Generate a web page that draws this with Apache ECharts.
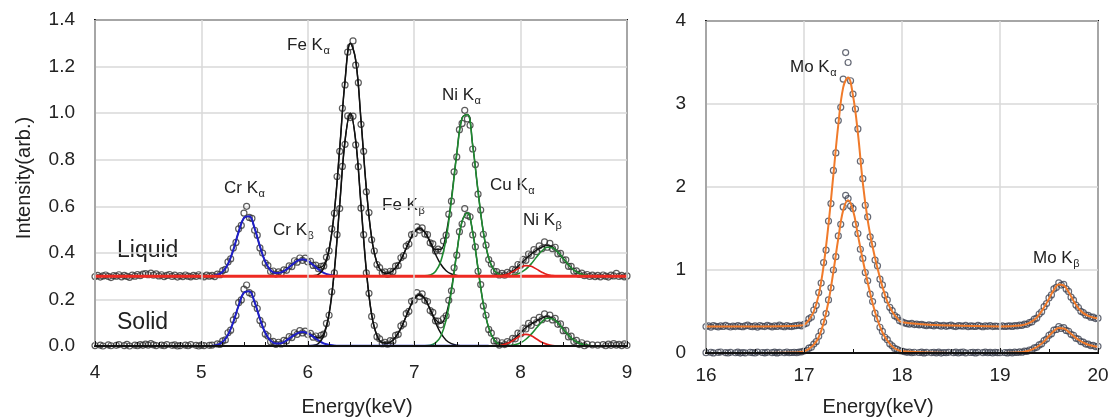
<!DOCTYPE html>
<html>
<head>
<meta charset="utf-8">
<script src="https://cdn.jsdelivr.net/npm/echarts@6/dist/echarts.min.js"></script>
<style>
  html, body { margin: 0; background: #fff; }
  #main { width: 1112px; height: 420px; }
</style>
</head>
<body>
<div id="main"></div>
<script>
// ---------- left panel (4-9 keV) ----------
// measured points: start energy + fixed step
var leftScanStart = 4.0, scanStep = 0.025;
var liquidData = [
  0.298,0.303,0.296,0.301,0.305,0.299,0.294,0.302,0.300,0.306,
  0.297,0.303,0.299,0.295,0.304,0.300,0.307,0.302,0.309,0.311,
  0.306,0.313,0.304,0.310,0.301,0.306,0.298,0.303,0.307,0.299,
  0.304,0.296,0.302,0.298,0.305,0.300,0.297,0.303,0.299,0.306,
  0.301,0.297,0.304,0.300,
  0.303,0.298,0.309,0.306,0.324,0.329,0.361,0.374,0.421,0.445,
  0.503,0.518,0.571,0.600,0.552,0.548,0.497,0.476,0.421,0.399,
  0.356,0.345,0.320,0.322,0.309,0.318,0.312,0.327,0.325,0.344,
  0.341,0.366,0.360,0.378,0.368,0.377,0.361,0.364,0.346,0.347,
  0.332,0.342,0.344,0.381,0.409,0.503,0.570,0.728,0.836,1.021,
  1.121,1.262,1.285,1.310,1.206,1.131,0.952,0.836,0.662,0.573,
  0.456,0.408,0.350,0.337,0.314,0.318,0.307,0.321,0.319,0.343,
  0.346,0.379,0.388,0.429,0.438,0.478,0.482,0.512,0.498,0.507,
  0.481,0.478,0.443,0.439,0.408,0.416,0.409,0.451,0.476,0.566,
  0.622,0.748,0.812,0.929,0.956,1.012,0.975,0.948,0.846,0.779,
  0.652,0.584,0.480,0.433,0.371,0.352,0.321,0.319,0.305,0.312,
  0.304,0.316,0.311,0.329,0.326,0.350,0.347,0.372,0.368,0.395,
  0.389,0.414,0.405,0.430,0.418,0.447,0.424,0.441,0.418,0.424,
  0.396,0.398,0.369,0.370,0.342,0.342,0.321,0.323,0.308,0.313,
  0.302,0.307,0.299,0.304,0.298,
  0.303,0.297,0.305,0.300,0.296,0.304,0.301,0.312,0.299,0.303,0.297,0.301
];
var solidData = [
  0.002,-0.003,0.004,0.000,-0.002,0.005,0.001,-0.004,0.003,0.006,
  -0.001,0.002,0.007,0.000,-0.003,0.004,0.001,0.006,0.003,0.008,
  0.004,0.010,0.005,0.002,-0.002,0.004,0.001,0.006,-0.001,0.003,
  0.005,0.000,0.002,-0.003,0.004,0.001,0.006,-0.002,0.003,0.000,
  0.004,0.002,-0.001,0.003,
  0.004,-0.001,0.009,0.007,0.022,0.026,0.057,0.068,0.112,0.131,
  0.186,0.198,0.244,0.262,0.229,0.222,0.181,0.161,0.110,0.092,
  0.051,0.043,0.018,0.020,0.007,0.016,0.009,0.024,0.021,0.040,
  0.036,0.057,0.050,0.066,0.056,0.064,0.049,0.054,0.038,0.043,
  0.031,0.046,0.051,0.097,0.132,0.233,0.314,0.478,0.590,0.771,
  0.866,0.988,0.981,0.987,0.864,0.770,0.592,0.478,0.314,0.226,
  0.127,0.088,0.040,0.031,0.010,0.016,0.008,0.023,0.021,0.046,
  0.050,0.086,0.095,0.139,0.149,0.192,0.196,0.229,0.213,0.224,
  0.196,0.191,0.152,0.144,0.108,0.107,0.091,0.118,0.130,0.196,
  0.237,0.336,0.390,0.491,0.524,0.590,0.561,0.555,0.477,0.426,
  0.321,0.264,0.172,0.132,0.071,0.055,0.022,0.022,0.004,0.014,
  0.006,0.019,0.014,0.033,0.031,0.055,0.052,0.077,0.073,0.097,
  0.089,0.111,0.101,0.123,0.113,0.138,0.119,0.133,0.112,0.119,
  0.093,0.095,0.066,0.067,0.039,0.042,0.019,0.024,0.006,0.014,
  0.001,0.008,-0.002,0.005,-0.001,
  0.004,-0.002,0.006,0.001,0.008,0.003,0.010,0.004,0.007,0.002,0.009,0.003
];

// fitted curves
var leftFitX = [4.0,4.5,5.0,5.05,
  5.10,5.15,5.20,5.25,5.30,5.35,5.40,5.45,5.50,5.55,
  5.60,5.65,5.70,5.75,5.80,5.85,5.90,5.95,6.00,6.05,
  6.10,6.15,6.20,6.25,6.30,6.35,6.40,6.45,6.50,6.55,
  6.60,6.65,6.70,6.75,6.80,6.85,6.90,6.95,7.00,7.05,
  7.10,7.15,7.20,7.25,7.30,7.35,7.40,7.45,7.50,7.55,
  7.60,7.65,7.70,7.75,7.80,7.85,7.90,7.95,8.00,8.05,
  8.10,8.15,8.20,8.25,8.30,8.35,8.40,8.45,8.50,8.55,
  8.60,8.65,8.70,8.80,9.00];
var liquidFit = [0.300,0.300,0.300,0.300,
  0.301,0.305,0.319,0.352,0.413,0.490,0.550,0.557,0.505,0.428,
  0.362,0.325,0.313,0.316,0.329,0.348,0.366,0.373,0.366,0.350,
  0.337,0.348,0.417,0.581,0.849,1.139,1.300,1.228,0.970,0.677,
  0.465,0.357,0.318,0.312,0.324,0.351,0.394,0.445,0.488,0.505,
  0.489,0.450,0.414,0.415,0.484,0.635,0.827,0.980,0.995,0.861,
  0.665,0.489,0.378,0.326,0.309,0.307,0.315,0.331,0.353,0.375,
  0.395,0.412,0.425,0.431,0.425,0.403,0.376,0.348,0.326,0.312,
  0.305,0.302,0.300,0.300,0.300];
var solidFit = [0,0,0,0,
  0.001,0.005,0.017,0.048,0.103,0.174,0.229,0.235,0.188,0.117,
  0.057,0.023,0.011,0.012,0.024,0.040,0.054,0.060,0.054,0.042,
  0.035,0.055,0.140,0.326,0.607,0.882,1.000,0.882,0.607,0.325,
  0.135,0.045,0.014,0.012,0.025,0.055,0.101,0.156,0.202,0.220,
  0.203,0.159,0.114,0.097,0.137,0.246,0.401,0.536,0.572,0.488,
  0.332,0.180,0.078,0.028,0.009,0.010,0.018,0.036,0.058,0.079,
  0.095,0.108,0.120,0.126,0.119,0.100,0.073,0.046,0.025,0.012,
  0.005,0.002,0,0,0];

// element components (start energy on leftFitX, values)
var liquidCr = [5.10, [0.301,0.305,0.319,0.352,0.413,0.490,0.550,0.557,0.505,0.428,0.362,0.325,0.313,0.316,0.329,0.348,0.366,0.373,0.366,0.348,0.329,0.314,0.306,0.302,0.300]];
var liquidFe = [6.00, [0.300,0.302,0.308,0.334,0.411,0.579,0.849,1.139,1.300,1.228,0.970,0.677,0.465,0.357,0.318,0.312,0.324,0.351,0.394,0.445,0.488,0.505,0.488,0.445,0.394,0.351,0.323,0.309,0.303,0.301,0.300]];
var liquidNi = [7.10, [0.301,0.305,0.320,0.364,0.461,0.626,0.824,0.979,0.994,0.861,0.665,0.489,0.378,0.326,0.307,0.302,0.302,0.306,0.315,0.330,0.353,0.382,0.408,0.424,0.422,0.403,0.376,0.348,0.326,0.312,0.305,0.302,0.300]];
var liquidCu = [7.80, [0.3015,0.305,0.3125,0.325,0.338,0.345,0.342,0.330,0.317,0.307,0.3025,0.3005]];
var solidCr = [5.10, [0.001,0.005,0.017,0.048,0.103,0.174,0.229,0.235,0.188,0.117,0.057,0.023,0.011,0.012,0.024,0.040,0.054,0.060,0.054,0.040,0.024,0.011,0.005,0.001,0]];
var solidFe = [6.00, [0,0.002,0.011,0.044,0.135,0.325,0.607,0.882,1.000,0.882,0.607,0.325,0.135,0.045,0.014,0.012,0.025,0.055,0.101,0.156,0.202,0.220,0.202,0.156,0.101,0.055,0.025,0.010,0.003,0.001,0]];
var solidNi = [7.10, [0.001,0.003,0.013,0.042,0.112,0.236,0.398,0.535,0.572,0.488,0.332,0.180,0.078,0.027,0.007,0.003,0.002,0.006,0.014,0.029,0.051,0.078,0.104,0.119,0.117,0.099,0.073,0.046,0.025,0.012,0.005,0.002,0]];
var solidCu = [7.75, [0.0006,0.002,0.007,0.016,0.030,0.044,0.050,0.044,0.030,0.016,0.007,0.002,0.0006]];
var liquidBase = 0.3;
var solidBaseBlue = [6.0, 7.7];
var solidBaseYellow = [5.2, 6.0];

// ---------- right panel (16-20 keV) ----------
var rightScanStart = 16.0;
var liquidMo = [
  0.318,0.326,0.312,0.330,0.321,0.315,0.327,0.319,0.334,0.322,
  0.313,0.325,0.318,0.331,0.320,0.316,0.328,0.335,0.321,0.317,
  0.326,0.312,0.329,0.322,0.318,0.333,0.324,0.315,0.327,0.320,
  0.337,0.323,0.316,0.329,0.321,0.318,0.326,0.330,0.335,0.328,
  0.346,0.358,0.412,0.431,0.518,0.575,0.728,0.842,1.09,1.24,
  1.59,1.80,2.20,2.41,2.80,2.96,3.30,3.62,3.50,3.28,
  3.12,2.94,2.70,2.31,2.10,1.78,1.64,1.40,1.31,1.12,
  1.05,0.89,0.82,0.70,0.64,0.55,0.51,0.45,0.43,0.39,0.376,
  0.362,0.355,0.349,0.358,0.342,0.347,0.339,0.344,0.336,0.331,
  0.340,0.333,0.327,0.338,0.330,0.325,0.334,0.321,0.329,0.336,
  0.324,0.318,0.331,0.326,0.322,0.333,0.317,0.328,0.323,0.319,
  0.332,0.325,0.316,0.327,0.321,0.330,0.318,0.324,0.322,
  0.318,0.326,0.319,0.324,0.328,0.320,0.331,0.327,0.335,0.333,
  0.348,0.346,0.367,0.374,0.408,0.421,0.470,0.497,0.558,0.596,
  0.664,0.700,0.772,0.790,0.846,0.818,0.828,0.772,0.742,0.672,
  0.636,0.578,0.548,0.502,0.487,0.458,0.453,0.432,0.433,0.415,0.419
];
var solidMo = [
  0.004,-0.006,0.009,0.001,-0.003,0.007,0.012,-0.002,0.005,0.000,
  0.008,-0.004,0.003,0.010,-0.001,0.006,0.002,-0.007,0.009,0.004,
  0.000,0.011,-0.003,0.006,0.002,0.008,-0.005,0.004,0.010,0.001,
  0.007,-0.002,0.005,0.012,0.003,0.006,0.009,0.004,0.011,0.014,
  0.024,0.030,0.058,0.068,0.108,0.137,0.201,0.262,0.372,0.475,
  0.640,0.785,1.00,1.16,1.41,1.55,1.76,1.90,1.86,1.77,
  1.74,1.55,1.44,1.25,1.14,0.97,0.87,0.71,0.62,0.48,
  0.41,0.31,0.26,0.19,0.16,0.11,0.086,0.055,0.045,0.028,0.024,
  0.015,0.008,0.012,0.003,0.009,-0.002,0.006,0.010,0.001,0.007,
  -0.004,0.005,0.009,0.002,0.011,-0.001,0.006,0.003,0.008,-0.003,
  0.004,0.010,0.000,0.007,0.012,0.002,-0.005,0.006,0.009,0.001,
  0.008,-0.002,0.005,0.011,0.003,0.007,0.000,0.009,0.004,
  0.003,-0.004,0.006,0.001,0.008,0.002,0.010,0.006,0.014,0.009,
  0.022,0.019,0.036,0.038,0.061,0.068,0.097,0.110,0.149,0.168,
  0.214,0.232,0.276,0.283,0.318,0.296,0.306,0.272,0.262,0.226,
  0.214,0.178,0.168,0.138,0.132,0.108,0.106,0.090,0.092,0.077,0.080
];
var rightFitX = [16.0,16.5,16.9,16.95,
  17.0,17.05,17.1,17.15,17.2,17.25,17.3,17.35,17.4,17.45,17.5,17.55,17.6,17.65,17.7,17.75,17.8,17.85,17.9,17.95,18.0,
  18.5,19.0,19.1,19.2,
  19.25,19.3,19.35,19.4,19.45,19.5,19.55,19.6,19.65,19.7,19.75,19.8,19.85,19.9,19.95,20.0];
var liquidMoFit = [0.320,0.320,0.325,0.330,
  0.340,0.40,0.50,0.70,1.05,1.55,2.15,2.75,3.20,3.32,3.10,2.65,2.05,1.60,1.28,1.02,0.80,0.62,0.50,0.42,0.37,
  0.330,0.320,0.322,0.330,
  0.342,0.362,0.400,0.462,0.550,0.655,0.760,0.825,0.815,0.735,0.630,0.540,0.480,0.448,0.428,0.415];
var solidMoFit = [0,0,0.005,0.010,
  0.020,0.05,0.10,0.19,0.36,0.62,0.98,1.38,1.72,1.84,1.72,1.42,1.12,0.85,0.60,0.40,0.25,0.15,0.08,0.04,0.02,
  0,0,0.002,0.008,
  0.016,0.030,0.055,0.090,0.140,0.205,0.265,0.300,0.295,0.255,0.205,0.160,0.125,0.100,0.085,0.075];

// ---------- build ----------
var FONT = '"Liberation Sans", Arial, sans-serif';

function scan(start, vals) {
  return vals.map(function (v, i) { return [+(start + i * scanStep).toFixed(3), v]; });
}
function pairs(xs, ys) {
  return ys.map(function (v, i) { return [xs[i], v]; });
}
function part(comp) {
  var i0 = leftFitX.indexOf(comp[0]);
  return comp[1].map(function (v, i) { return [leftFitX[i0 + i], v]; });
}
// open circles, no fill so the fit lines stay visible
function dots(data, idx, color) {
  return {
    type: 'scatter', data: data, xAxisIndex: idx, yAxisIndex: idx,
    symbol: 'circle', symbolSize: 6, silent: true, z: 1,
    itemStyle: { color: 'rgba(0,0,0,0)', borderColor: color, borderWidth: 1.2 }
  };
}
function curve(data, idx, color, width, z) {
  return {
    type: 'line', data: data, xAxisIndex: idx, yAxisIndex: idx,
    showSymbol: false, symbol: 'none', smooth: 0.4,
    silent: true, z: z, lineStyle: { color: color, width: width }
  };
}

var series = [
  dots(scan(leftScanStart, liquidData), 0, '#333'),
  dots(scan(leftScanStart, solidData), 0, '#333'),
  curve(pairs(leftFitX, liquidFit), 0, '#111', 1.3, 3),
  curve(pairs(leftFitX, solidFit), 0, '#111', 1.3, 3),
  curve(part(liquidCr), 0, '#1f1fc8', 2, 4),
  curve(part(solidCr), 0, '#1f1fc8', 2, 4),
  curve(part(liquidFe), 0, '#111', 1.5, 4),
  curve(part(solidFe), 0, '#111', 1.5, 4),
  curve(part(liquidNi), 0, '#1e8a30', 1.6, 4),
  curve(part(solidNi), 0, '#1e8a30', 1.6, 4),
  curve(part(liquidCu), 0, '#e0201c', 1.6, 4),
  curve(part(solidCu), 0, '#e0201c', 1.6, 4),
  curve([[4, liquidBase], [9, liquidBase]], 0, '#ee2a22', 3, 5),
  curve([[solidBaseYellow[0], 0], [solidBaseYellow[1], 0]], 0, '#e8c020', 2, 5),
  curve([[solidBaseBlue[0], 0], [solidBaseBlue[1], 0]], 0, '#2030d0', 2.4, 5),
  dots(scan(rightScanStart, liquidMo), 1, '#3e4452'),
  dots(scan(rightScanStart, solidMo), 1, '#3e4452'),
  curve(pairs(rightFitX, liquidMoFit), 1, '#f07a2a', 2, 4),
  curve(pairs(rightFitX, solidMoFit), 1, '#f07a2a', 2, 4)
];

function xAxisCfg(idx, min, max, minorSplit, margin) {
  return {
    type: 'value', gridIndex: idx, min: min, max: max, interval: 1, z: 6,
    axisLine: { show: true, onZero: false, lineStyle: { color: '#111', width: 2 } },
    axisTick: { show: true, inside: true, length: 5, lineStyle: { color: '#111', width: 1 } },
    minorTick: { show: true, splitNumber: minorSplit, length: 4, lineStyle: { color: '#111', width: 1 } },
    axisLabel: { color: '#222', fontSize: 19, fontFamily: FONT, margin: margin },
    splitLine: { show: true, lineStyle: { color: '#d9d9d9', width: 1.5 } }
  };
}
function yAxisCfg(idx, min, max, interval, fmt) {
  return {
    type: 'value', gridIndex: idx, min: min, max: max, interval: interval,
    axisLine: { show: true, onZero: false, lineStyle: { color: '#111', width: 2 } },
    axisTick: { show: false },
    axisLabel: { color: '#222', fontSize: 19, fontFamily: FONT, margin: 20, formatter: fmt },
    splitLine: { show: true, lineStyle: { color: '#d9d9d9', width: 1.5 } }
  };
}

// peak labels: [main, subscript, left x, centre y]
var peakLabels = [
  ['Fe K', 'α', 287, 45], ['Cr K', 'α', 224, 188], ['Cr K', 'β', 273, 230],
  ['Fe K', 'β', 382, 205], ['Ni K', 'α', 442, 95], ['Cu K', 'α', 490, 185],
  ['Ni K', 'β', 523, 220], ['Mo K', 'α', 790, 67], ['Mo K', 'β', 1033, 258]
];
var ctx = document.createElement('canvas').getContext('2d');
var graphics = [];
peakLabels.forEach(function (p) {
  ctx.font = '17px ' + FONT;
  var w = ctx.measureText(p[0]).width;
  graphics.push({ type: 'text', x: p[2], y: p[3], silent: true,
    style: { text: p[0], fontSize: 17, fontFamily: FONT, fill: '#222', align: 'left', verticalAlign: 'middle' } });
  graphics.push({ type: 'text', x: p[2] + w + 0.5, y: p[3] + 6, silent: true,
    style: { text: p[1], fontSize: 11, fontFamily: FONT, fill: '#222', align: 'left', verticalAlign: 'middle' } });
});
graphics.push({ type: 'text', x: 117, y: 251, silent: true,
  style: { text: 'Liquid', fontSize: 23, fontFamily: FONT, fill: '#222', verticalAlign: 'middle' } });
graphics.push({ type: 'text', x: 117, y: 323, silent: true,
  style: { text: 'Solid', fontSize: 23, fontFamily: FONT, fill: '#222', verticalAlign: 'middle' } });
graphics.push({ type: 'text', x: 357, y: 407, silent: true,
  style: { text: 'Energy(keV)', fontSize: 20, fontFamily: FONT, fill: '#222', align: 'center', verticalAlign: 'middle' } });
graphics.push({ type: 'text', x: 878, y: 407, silent: true,
  style: { text: 'Energy(keV)', fontSize: 20, fontFamily: FONT, fill: '#222', align: 'center', verticalAlign: 'middle' } });
graphics.push({ type: 'text', x: 24, y: 178, rotation: Math.PI / 2, silent: true,
  style: { text: 'Intensity(arb.)', fontSize: 20, fontFamily: FONT, fill: '#222', align: 'center', verticalAlign: 'middle' } });

var myChart = echarts.init(document.getElementById('main'));
var option = {
  animation: false,
  backgroundColor: '#fff',
  grid: [
    { left: 95, top: 20, width: 532, height: 326, show: true, borderColor: '#111', borderWidth: 2, backgroundColor: 'transparent' },
    { left: 706, top: 21, width: 392, height: 332, show: true, borderColor: '#111', borderWidth: 2, backgroundColor: 'transparent' }
  ],
  xAxis: [xAxisCfg(0, 4, 9, 5, 17), xAxisCfg(1, 16, 20, 2, 13)],
  yAxis: [
    yAxisCfg(0, 0, 1.4, 0.2, function (v) { return v.toFixed(1); }),
    yAxisCfg(1, 0, 4, 1, function (v) { return String(v); })
  ],
  series: series,
  graphic: graphics
};
myChart.setOption(option);
</script>
</body>
</html>
